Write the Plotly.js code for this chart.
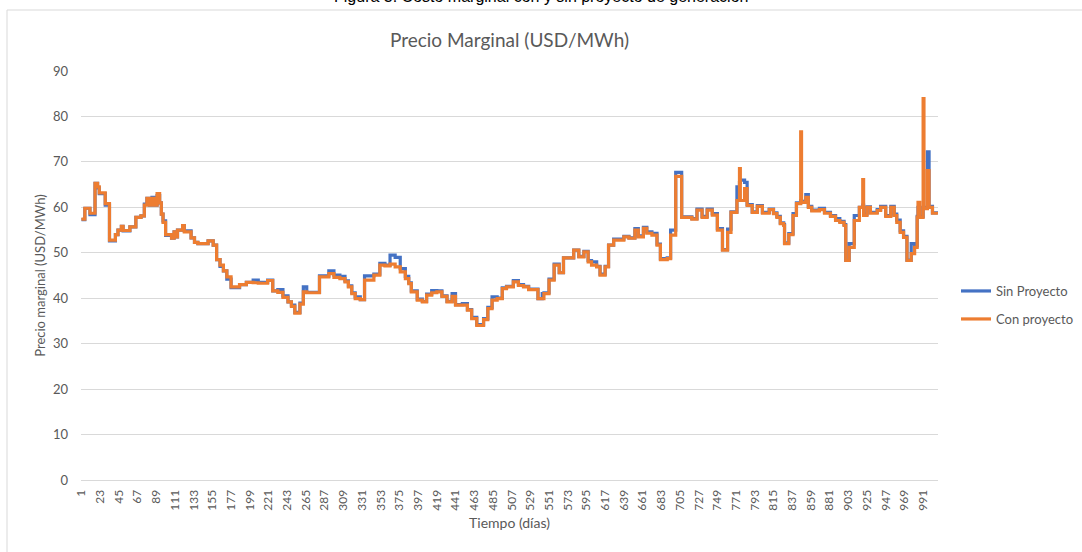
<!DOCTYPE html>
<html>
<head>
<meta charset="utf-8">
<script src="https://cdn.plot.ly/plotly-3.0.1.min.js"></script>
<style>
  html, body { margin: 0; padding: 0; background: #ffffff; overflow: hidden; }
  #chart { width: 1082px; height: 552px; }
</style>
</head>
<body>
<div id="chart"></div>
<script>
// Day at which each price level starts (step breakpoints)
const dias = [1,5,11,17,20,22,29,34,41,44,48,50,58,65,71,75,78,81,84,87,90,93,95,97,100,107,110,112,114,120,122,130,134,138,150,156,160,164,168,172,177,187,195,203,209,220,226,232,238,244,248,252,258,262,266,281,292,298,305,311,315,319,323,329,334,345,352,358,364,370,376,382,386,389,396,402,407,413,419,425,431,437,441,449,455,460,466,474,479,484,490,496,501,509,515,521,527,538,543,545,551,557,563,568,580,586,592,597,601,607,611,617,621,627,639,645,652,656,662,666,672,678,682,690,694,700,707,719,725,731,737,743,749,755,761,765,772,775,776,781,784,790,796,802,810,815,819,823,827,828,833,838,842,847,848,853,856,860,869,875,882,888,893,898,900,904,910,916,920,921,925,929,937,941,947,953,957,960,964,968,972,977,981,984,985,987,991,992,996,998,1002,1008];

const conProyecto = [57.4,59.8,58.7,65.3,64.5,63.2,60.8,52.8,54.0,55.0,55.8,54.9,55.7,57.8,58.1,60.5,62.0,60.5,62.0,60.5,63.0,61.0,58.5,56.7,54.0,53.2,54.6,53.5,55.0,56.0,54.6,53.3,52.3,52.0,52.6,51.7,48.5,47.3,46.0,44.7,42.5,43.0,43.5,43.4,43.3,43.9,41.6,41.3,40.2,39.2,38.2,36.7,38.7,41.4,41.2,44.7,45.4,44.6,44.3,43.6,42.5,41.0,39.9,39.7,44.0,45.1,47.3,47.1,47.5,46.9,45.8,44.3,43.2,41.4,39.6,39.2,40.7,41.2,41.4,40.4,39.2,40.4,38.5,38.5,37.4,35.5,34.0,35.3,37.7,39.6,39.9,42.1,42.5,43.6,42.8,42.5,41.9,39.9,39.9,41.0,44.0,47.3,45.6,48.9,50.6,49.1,50.2,48.0,47.3,46.9,45.1,46.9,51.7,52.8,53.5,53.2,55.0,53.5,55.4,54.3,53.9,51.7,48.5,48.7,53.9,66.8,57.8,57.4,59.4,57.8,59.4,58.3,55.0,50.6,54.5,58.9,61.5,68.5,61.5,64.1,60.4,58.9,60.2,58.7,59.5,58.6,57.8,56.4,56.0,52.0,54.0,58.2,60.8,76.6,61.1,62.2,60.0,59.2,59.5,58.7,58.0,57.1,56.7,56.0,48.3,51.2,57.1,60.0,66.1,58.2,60.0,58.7,59.3,60.0,58.0,60.0,58.2,56.7,54.5,53.4,48.3,49.8,51.2,57.8,61.1,57.8,83.9,59.7,68.1,60.0,58.7,58.4];

const sinProyecto = [57.3,59.8,58.4,65.3,64.3,63.0,60.5,52.6,54.0,55.0,55.8,54.8,55.7,57.8,58.1,60.7,62.0,60.5,62.2,60.5,62.6,61.0,58.5,57.0,53.8,53.2,54.6,53.5,55.0,56.0,54.8,53.3,52.3,52.0,52.6,51.7,48.5,47.0,46.0,44.2,42.3,43.0,43.5,44.0,43.5,44.0,41.6,41.9,40.5,39.2,38.5,36.9,38.9,42.5,41.3,44.9,46.0,45.1,44.8,43.8,42.7,41.2,40.3,39.7,44.9,45.3,47.7,47.3,49.5,49.0,46.5,44.8,43.4,41.6,39.8,39.3,40.9,41.7,41.6,40.5,39.3,41.0,38.6,38.8,37.5,35.8,34.2,35.5,38.0,40.3,40.0,42.3,42.6,43.9,43.0,42.6,42.0,39.9,41.0,41.2,44.2,47.5,45.6,48.9,50.6,49.2,50.3,48.3,48.0,47.0,45.3,47.0,51.7,53.0,53.6,53.3,55.3,53.7,55.6,54.6,54.3,51.9,48.7,48.9,55.0,67.7,57.9,57.5,59.6,58.0,59.6,58.6,55.3,50.7,55.2,59.0,64.5,65.5,66.0,65.5,60.6,59.0,60.4,58.9,59.6,58.8,58.0,56.6,56.2,52.2,54.2,58.6,61.0,61.5,61.3,62.8,60.2,59.4,59.8,58.9,58.2,57.5,56.9,56.2,48.3,52.0,58.2,60.0,60.5,58.5,60.1,58.9,59.5,60.2,58.2,60.2,58.5,57.2,54.8,53.6,48.4,52.0,51.5,58.0,60.0,58.0,60.0,60.0,72.2,60.2,58.8,58.5];

const etiquetasX = [1,23,45,67,89,111,133,155,177,199,221,243,265,287,309,331,353,375,397,419,441,463,485,507,529,551,573,595,617,639,661,683,705,727,749,771,793,815,837,859,881,903,925,947,969,991];
const valoresY = [0,10,20,30,40,50,60,70,80,90];

const gris = '#595959';
const fuente = 'Lato, "Open Sans", sans-serif';

const traces = [
  {
    x: dias, y: sinProyecto, type: 'scatter', mode: 'lines',
    name: 'Sin Proyecto', line: {color: '#4472C4', width: 3.2, shape: 'hv'},
    legend: 'legend', hoverinfo: 'skip'
  },
  {
    x: dias, y: conProyecto, type: 'scatter', mode: 'lines',
    name: 'Con proyecto', line: {color: '#ED7D31', width: 3.2, shape: 'hv'},
    legend: 'legend2', hoverinfo: 'skip'
  }
];

const legendBase = {
  xref: 'container', yref: 'container', xanchor: 'left', yanchor: 'middle',
  font: {family: fuente, size: 13, color: gris},
  bgcolor: 'rgba(0,0,0,0)', itemwidth: 30, borderwidth: 0
};

const layout = {
  width: 1082, height: 552,
  margin: {l: 81, r: 144, t: 71, b: 72, pad: 0, autoexpand: false},
  paper_bgcolor: '#ffffff', plot_bgcolor: '#ffffff',
  font: {family: fuente, color: gris, size: 13},
  showlegend: true,
  title: {
    text: 'Precio Marginal (USD/MWh)',
    font: {family: fuente, size: 19, color: gris},
    x: 0.5, xref: 'paper', xanchor: 'center',
    y: 1 - 40/552, yref: 'container', yanchor: 'middle'
  },
  xaxis: {
    range: [0.5, 1008.5],
    tickmode: 'array', tickvals: etiquetasX, ticktext: etiquetasX.map(String),
    tickangle: -90, ticks: '', showgrid: false, zeroline: false,
    showline: true, linecolor: '#d9d9d9', linewidth: 1,
    tickfont: {family: fuente, size: 12, color: gris},
    ticklabelstandoff: 4,
    title: {text: 'Tiempo (días)', font: {family: fuente, size: 14, color: gris}, standoff: 8},
    fixedrange: true
  },
  yaxis: {
    range: [0, 90], tickmode: 'array', tickvals: valoresY,
    showgrid: true, gridcolor: '#d9d9d9', gridwidth: 1,
    zeroline: false, showline: false, ticks: '',
    tickfont: {family: fuente, size: 13, color: gris},
    ticklabelstandoff: 12,
    title: {text: 'Precio marginal (USD/MWh)', font: {family: fuente, size: 13, color: gris}, standoff: 4},
    fixedrange: true
  },
  legend: Object.assign({}, legendBase, {x: 956 / 1082, y: 1 - 291 / 552}),
  legend2: Object.assign({}, legendBase, {x: 956 / 1082, y: 1 - 319 / 552}),
  shapes: [
    {
      type: 'rect', xref: 'paper', yref: 'paper',
      x0: (7 - 81) / 857, x1: (1200 - 81) / 857,
      y0: (480 - 700) / 409, y1: (480 - 10) / 409,
      line: {color: '#d9d9d9', width: 1}, fillcolor: 'rgba(0,0,0,0)', layer: 'below'
    }
  ],
  annotations: [
    {
      text: 'Figura 3. Costo marginal con y sin proyecto de generación',
      xref: 'paper', yref: 'paper',
      x: (541 - 81) / 857, y: (480 + 3) / 409,
      xanchor: 'center', yanchor: 'middle', showarrow: false,
      font: {family: '"Liberation Sans", Arial, sans-serif', size: 16, color: '#000000'}
    }
  ]
};

Plotly.newPlot('chart', traces, layout, {displayModeBar: false, staticPlot: true});
</script>
</body>
</html>
